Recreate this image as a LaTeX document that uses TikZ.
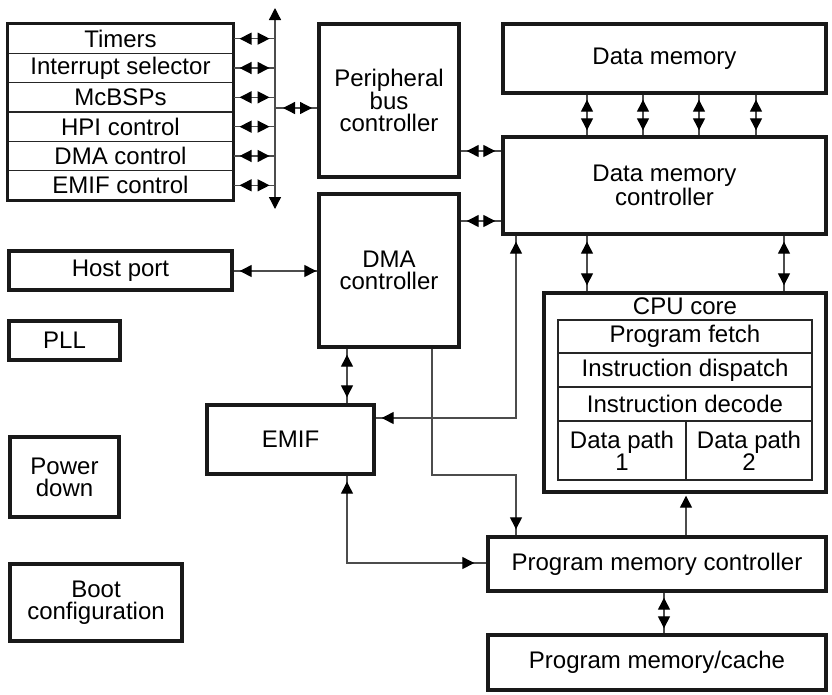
\documentclass[tikz,border=0pt]{standalone}
\usepackage{fontspec}
\setmainfont{Liberation Sans}
\usetikzlibrary{arrows.meta,fit,calc}
\begin{document}
\begin{tikzpicture}[x=1pt,y=-1pt,
  >={Triangle[length=12pt,width=12pt,color=black]},
  txt/.style={inner sep=0pt, align=center, font=\fontsize{24}{22}\selectfont},
  box/.style={txt, draw=black!90, line width=3.4pt},
  cell/.style={txt, draw=black!85, line width=1.1pt},
  conn/.style={draw=black!70, line width=1.3pt},
  dbl/.style={conn, <->},
  sgl/.style={conn, ->}
]
\useasboundingbox (0,0) rectangle (832,694);

% peripheral stack
\foreach \n/\t [count=\k from 0] in {r1/Timers, r2/Interrupt selector, r3/McBSPs, r4/HPI control, r5/DMA control, r6/EMIF control}{
  \node[cell, minimum width=225, minimum height=29.33] (\n) at (120.5, {38.67+29.33*\k}) {\t};
}
\node[draw=black!90, line width=3.4pt, inner sep=0pt, fit=(r1)(r6)] (stack) {};

% boxes
\node[box, minimum width=140, minimum height=153] (pbc) at (389,100.5) {Peripheral\\bus\\controller};
\node[box, minimum width=140, minimum height=153] (dma) at (389,270.5) {DMA\\controller};
\node[box, minimum width=323, minimum height=69] (dm) at (664.5,58.5) {Data memory};
\node[box, minimum width=323, minimum height=97] (dmc) at (664.5,185.5) {Data memory\\controller};
\node[box, minimum width=282, minimum height=199] (cpu) at (685,392.5) {};
\node[txt] (cputitle) at (685,306) {CPU core};
\node[cell, minimum width=254, minimum height=33] (pf) at (685,336.5) {Program fetch};
\node[cell, minimum width=254, minimum height=34] (idp) at (685,370) {Instruction dispatch};
\node[cell, minimum width=254, minimum height=34] (idc) at (685,404) {Instruction decode};
\node[cell, minimum width=128, minimum height=59] (dp1) at (622,450.5) {Data path\\1};
\node[cell, minimum width=126, minimum height=59] (dp2) at (749,450.5) {Data path\\2};
\node[box, minimum width=338, minimum height=54] (pmc) at (657,564) {Program memory controller};
\node[box, minimum width=338, minimum height=55] (pmem) at (657,662.5) {Program memory/cache};
\node[box, minimum width=167, minimum height=69] (emif) at (290.5,439.5) {EMIF};
\node[box, minimum width=223, minimum height=39] (host) at (120.5,270.5) {Host port};
\node[box, minimum width=111, minimum height=39] (pll) at (64.5,340.5) {PLL};
\node[box, minimum width=109, minimum height=80] (pwr) at (64.5,477) {Power\\down};
\node[box, minimum width=172, minimum height=77] (boot) at (96,602.5) {Boot\\configuration};

% bus
\coordinate (bustop) at (275,8);
\coordinate (busbot) at (275,209);
\draw[dbl] (bustop) -- (busbot);
\foreach \n in {r1,r2,r3,r4,r5,r6}{
  \draw[conn] (\n.east) -- (\n.east -| bustop);
  \draw[dbl] ($(\n.east)+(6,0)$) -- ($(\n.east)+(36,0)$);
}
\coordinate (hb) at (275,108);
\draw[conn] (hb) -- (hb -| pbc.west);
\draw[dbl] ($(hb)+(8,0)$) -- ($(hb)+(37,0)$);

% horizontal links
\coordinate (hp) at (0,151);
\coordinate (hd) at (0,221);
\coordinate (hh) at (0,271);
\draw[conn] (pbc.east |- hp) -- (dmc.west |- hp);
\draw[dbl, shorten <=6pt, shorten >=6pt] (pbc.east |- hp) -- (dmc.west |- hp);
\draw[conn] (dma.east |- hd) -- (dmc.west |- hd);
\draw[dbl, shorten <=6pt, shorten >=6pt] (dma.east |- hd) -- (dmc.west |- hd);
\draw[conn] (host.east |- hh) -- (dma.west |- hh);
\draw[dbl, shorten <=6pt, shorten >=1pt] (host.east |- hh) -- (dma.west |- hh);

% data memory <-> controller
\foreach \x in {587,643,699,756}{
  \coordinate (vx) at (\x,0);
  \draw[conn] (dm.south -| vx) -- (dmc.north -| vx);
  \draw[dbl, shorten <=5pt, shorten >=5pt] (dm.south -| vx) -- (dmc.north -| vx);
}
% controller <-> CPU
\foreach \x in {587,784}{
  \coordinate (vx) at (\x,0);
  \draw[conn] (dmc.south -| vx) -- (cpu.north -| vx);
  \draw[dbl, shorten <=6pt, shorten >=6pt] (dmc.south -| vx) -- (cpu.north -| vx);
}

% EMIF <-> data memory controller
\coordinate (e1) at (516,418);
\draw[conn] (dmc.south -| e1) |- (emif.east |- e1);
\draw[dbl, shorten <=6pt, shorten >=6pt] (dmc.south -| e1) |- (emif.east |- e1);

% DMA -> program memory controller
\coordinate (p1) at (432,475);
\coordinate (p2) at (516,475);
\draw[conn] (dma.south -| p1) -- (p1) -- (p2) -- (pmc.north -| p2);
\draw[sgl, shorten >=6pt] (p2) -- (pmc.north -| p2);

% DMA <-> EMIF
\coordinate (q) at (347,0);
\draw[conn] (dma.south -| q) -- (emif.north -| q);
\draw[dbl, shorten <=6pt, shorten >=6pt] (dma.south -| q) -- (emif.north -| q);

% EMIF <-> program memory controller
\coordinate (q2) at (347,563);
\draw[conn] (emif.south -| q2) -- (q2) -- (q2 -| pmc.west);
\draw[sgl, shorten >=6pt] (q2) -- (emif.south -| q2);
\draw[sgl, shorten >=12pt] (q2) -- (q2 -| pmc.west);

% program memory controller -> CPU
\coordinate (c1) at (686,0);
\draw[sgl, shorten >=2pt] (pmc.north -| c1) -- (cpu.south -| c1);

% program memory controller <-> cache
\coordinate (c2) at (664,0);
\draw[conn] (pmc.south -| c2) -- (pmem.north -| c2);
\draw[dbl, shorten <=5pt, shorten >=5pt] (pmc.south -| c2) -- (pmem.north -| c2);
\end{tikzpicture}
\end{document}
